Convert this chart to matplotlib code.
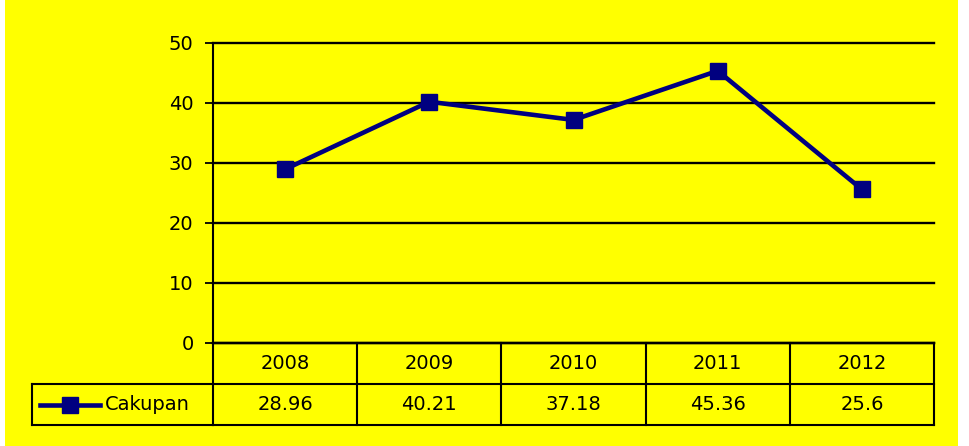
import numpy as np
import matplotlib
matplotlib.use("Agg")
import matplotlib.pyplot as plt
from matplotlib.patches import Rectangle

years = ["2008", "2009", "2010", "2011", "2012"]
cakupan = [28.96, 40.21, 37.18, 45.36, 25.6]
value_labels = ["28.96", "40.21", "37.18", "45.36", "25.6"]
series_name = "Cakupan"
yticks = [0, 10, 20, 30, 40, 50]

navy = "#000080"
yellow = "#ffff00"
fs = 14

W, H = 970, 446
fig = plt.figure(figsize=(W / 100, H / 100), dpi=100)
fig.patch.set_facecolor("white")
# yellow chart area, behind everything
bg = Rectangle((5 / W, 0), (958 - 5) / W, 1, transform=fig.transFigure,
               facecolor=yellow, edgecolor="none", zorder=-10)
fig.add_artist(bg)

left, right, top, bottom = 213, 934, 43, 343
ax = fig.add_axes([left / W, (H - bottom) / H, (right - left) / W, (bottom - top) / H])
ax.set_facecolor("none")

x = np.arange(len(years))
ax.set_xlim(-0.5, len(years) - 0.5)
ax.set_ylim(0, 50)
ax.set_yticks(yticks)
ax.grid(axis="y", color="black", linewidth=1.7)
ax.set_axisbelow(True)
for gl in ax.yaxis.get_gridlines():
    gl.set_clip_on(False)
ax.tick_params(axis="y", direction="out", length=6, width=1.3, pad=8, labelsize=fs)
ax.tick_params(axis="x", bottom=False, labelbottom=False)
for s in ["top", "right"]:
    ax.spines[s].set_visible(False)
ax.spines["left"].set_linewidth(1.5)
ax.spines["bottom"].set_linewidth(1.7)

ax.plot(x, cakupan, color=navy, linewidth=3.3, marker="s", markersize=12,
        markerfacecolor=navy, markeredgecolor=navy, zorder=3)

# data table under the chart
row_h = 41 / (bottom - top)
leg_left = (32 - left) / (right - left)
tr = ax.get_xaxis_transform()
lk = dict(color="black", linewidth=1.5, clip_on=False)
for i in range(len(years) + 1):
    ax.plot([i - 0.5, i - 0.5], [0, -2 * row_h], transform=tr, **lk)
ax.plot([-0.5, len(years) - 0.5], [-row_h, -row_h], transform=tr, **lk)
ax.plot([-0.5, len(years) - 0.5], [-2 * row_h, -2 * row_h], transform=tr, **lk)
ax.plot([leg_left, 0], [-row_h, -row_h], transform=ax.transAxes, **lk)
ax.plot([leg_left, 0], [-2 * row_h, -2 * row_h], transform=ax.transAxes, **lk)
ax.plot([leg_left, leg_left], [-row_h, -2 * row_h], transform=ax.transAxes, **lk)

for i, (yr, v) in enumerate(zip(years, value_labels)):
    ax.text(i, -0.5 * row_h, yr, transform=tr, ha="center", va="center", fontsize=fs)
    ax.text(i, -1.5 * row_h, v, transform=tr, ha="center", va="center", fontsize=fs)

# legend key inside the row header cell
kx0 = (40 - left) / (right - left)
kx1 = (100 - left) / (right - left)
ax.plot([kx0, kx1], [-1.5 * row_h, -1.5 * row_h], transform=ax.transAxes, color=navy,
        linewidth=3.3, clip_on=False)
ax.plot([(kx0 + kx1) / 2], [-1.5 * row_h], transform=ax.transAxes, marker="s",
        markersize=12, color=navy, clip_on=False)
ax.text((105 - left) / (right - left), -1.5 * row_h, series_name, transform=ax.transAxes,
        ha="left", va="center", fontsize=fs)

fig.savefig("out.png", dpi=100, facecolor=fig.get_facecolor())
